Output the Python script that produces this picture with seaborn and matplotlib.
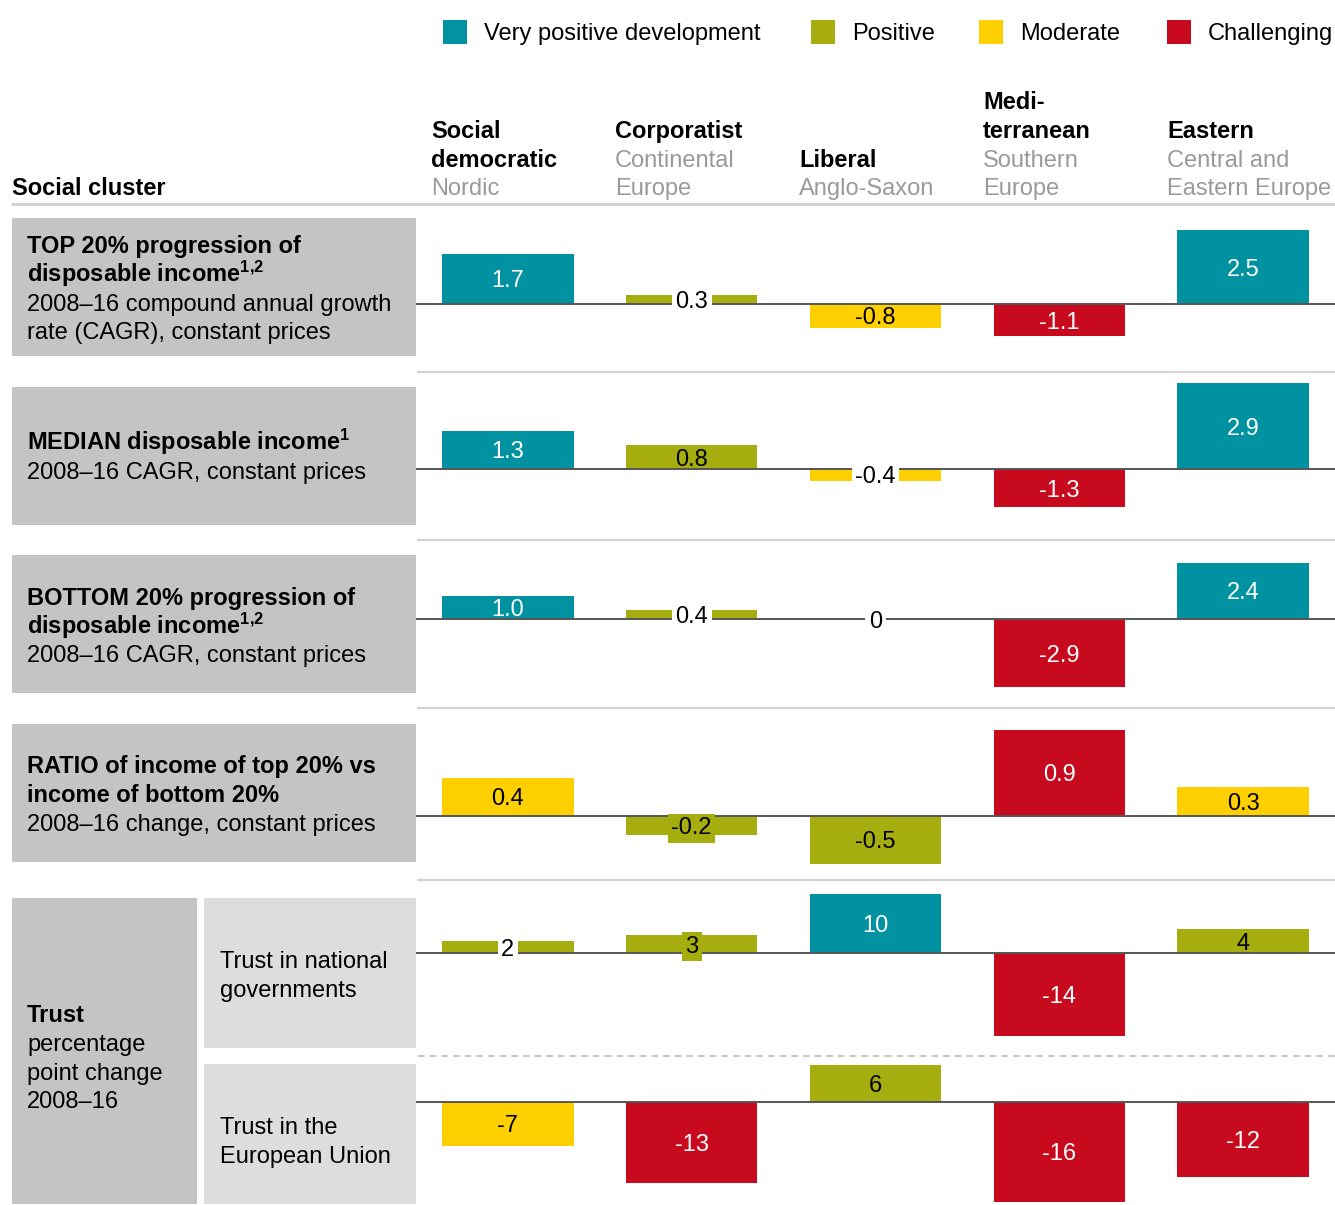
import matplotlib
matplotlib.use("Agg")
import matplotlib.pyplot as plt
from matplotlib.patches import Rectangle
from matplotlib.lines import Line2D
import seaborn as sns
import pandas as pd

sns.set_theme(style="white")
plt.rcParams['font.family'] = ['Liberation Sans', 'DejaVu Sans']
plt.rcParams['text.color'] = 'black'
plt.rcParams['mathtext.fontset'] = 'custom'
plt.rcParams['mathtext.rm'] = 'Liberation Sans'
plt.rcParams['mathtext.bf'] = 'Liberation Sans:bold'
plt.rcParams['mathtext.it'] = 'Liberation Sans:italic'

# ---------------- data ----------------
clusters = ["Social democratic", "Corporatist", "Liberal", "Mediterranean", "Eastern"]
categories = ["Very positive development", "Positive", "Moderate", "Challenging"]

top20 = [1.7, 0.3, -0.8, -1.1, 2.5]
top20_cat = ["Very positive development", "Positive", "Moderate", "Challenging", "Very positive development"]
median = [1.3, 0.8, -0.4, -1.3, 2.9]
median_cat = ["Very positive development", "Positive", "Moderate", "Challenging", "Very positive development"]
bottom20 = [1.0, 0.4, 0, -2.9, 2.4]
bottom20_cat = ["Very positive development", "Positive", "Positive", "Challenging", "Very positive development"]
ratio = [0.4, -0.2, -0.5, 0.9, 0.3]
ratio_cat = ["Moderate", "Positive", "Positive", "Challenging", "Moderate"]
trust_gov = [2, 3, 10, -14, 4]
trust_gov_cat = ["Positive", "Positive", "Very positive development", "Challenging", "Positive"]
trust_eu = [-7, -13, 6, -16, -12]
trust_eu_cat = ["Moderate", "Challenging", "Positive", "Challenging", "Challenging"]

value_labels = [
    ["1.7", "0.3", "-0.8", "-1.1", "2.5"],
    ["1.3", "0.8", "-0.4", "-1.3", "2.9"],
    ["1.0", "0.4", "0", "-2.9", "2.4"],
    ["0.4", "-0.2", "-0.5", "0.9", "0.3"],
    ["2", "3", "10", "-14", "4"],
    ["-7", "-13", "6", "-16", "-12"],
]

palette = {"Very positive development": "#0092A0", "Positive": "#A6AD0F",
           "Moderate": "#FFD000", "Challenging": "#C80A1E"}
text_on = {"Very positive development": "white", "Positive": "black",
           "Moderate": "black", "Challenging": "white"}

W, H = 1335, 1205
FS = 17
fig = plt.figure(figsize=(W / 100, H / 100), dpi=100)


def fx(px):
    return px / W


def fy(py):
    return 1 - py / H


def ftext(x, y, s, **kw):
    kw.setdefault("fontsize", FS)
    kw.setdefault("va", "baseline")
    fig.text(fx(x), fy(y + 8), s, **kw)


def rect(x0, y0, x1, y1, color):
    fig.add_artist(Rectangle((fx(x0), fy(y1)), fx(x1) - fx(x0), fy(y0) - fy(y1),
                             transform=fig.transFigure, facecolor=color,
                             edgecolor="none", zorder=0))


def hline(y, x0, x1, color, lw, ls="-"):
    fig.add_artist(Line2D([fx(x0), fx(x1)], [fy(y), fy(y)], transform=fig.transFigure,
                          color=color, lw=lw, ls=ls))


# ---------------- legend ----------------
for x, cat, lab in [(443, categories[0], "Very positive development"),
                    (811, categories[1], "Positive"),
                    (979, categories[2], "Moderate"),
                    (1167, categories[3], "Challenging")]:
    rect(x, 20, x + 24, 44, palette[cat])
    ftext(x + 41, 32, lab, color="black")

# ---------------- header ----------------
ftext(12, 187, "Social cluster", fontweight="bold")
GRAY = "#9A9A9A"
headers = [
    [("Social", "b", 130), ("democratic", "b", 159), ("Nordic", "g", 187)],
    [("Corporatist", "b", 130), ("Continental", "g", 159), ("Europe", "g", 187)],
    [("Liberal", "b", 159), ("Anglo-Saxon", "g", 187)],
    [("Medi-", "b", 101), ("terranean", "b", 130), ("Southern", "g", 159), ("Europe", "g", 187)],
    [("Eastern", "b", 130), ("Central and", "g", 159), ("Eastern Europe", "g", 187)],
]
for i, lines in enumerate(headers):
    x = 416 + 184 * i + 15
    for s, kind, y in lines:
        if kind == "b":
            ftext(x, y, s, fontweight="bold", color="black")
        else:
            ftext(x, y, s, color=GRAY)
hline(204, 12, 1335, "#CFCFCF", 2)

# ---------------- left boxes ----------------
DARK = "#C4C4C4"
LIGHT = "#DDDDDD"
rect(12, 218, 416, 356, DARK)
rect(12, 387, 416, 525, DARK)
rect(12, 555, 416, 693, DARK)
rect(12, 724, 416, 862, DARK)
rect(12, 898, 197, 1204, DARK)
rect(204, 898, 416, 1048, LIGHT)
rect(204, 1064, 416, 1204, LIGHT)

box_text = [
    (27, 245, "TOP 20% progression of", "bold"),
    (27, 274, r"disposable income$^{\mathbf{1{,}2}}$", "bold"),
    (27, 303, "2008–16 compound annual growth", "normal"),
    (27, 331, "rate (CAGR), constant prices", "normal"),
    (27, 442, r"MEDIAN disposable income$^{\mathbf{1}}$", "bold"),
    (27, 471, "2008–16 CAGR, constant prices", "normal"),
    (27, 597, "BOTTOM 20% progression of", "bold"),
    (27, 626, r"disposable income$^{\mathbf{1{,}2}}$", "bold"),
    (27, 654, "2008–16 CAGR, constant prices", "normal"),
    (27, 765, "RATIO of income of top 20% vs", "bold"),
    (27, 794, "income of bottom 20%", "bold"),
    (27, 823, "2008–16 change, constant prices", "normal"),
    (27, 1014, "Trust", "bold"),
    (27, 1043, "percentage", "normal"),
    (27, 1072, "point change", "normal"),
    (27, 1100, "2008–16", "normal"),
    (220, 960, "Trust in national", "normal"),
    (220, 989, "governments", "normal"),
    (220, 1126, "Trust in the", "normal"),
    (220, 1155, "European Union", "normal"),
]
for x, y, s, w in box_text:
    ftext(x, y, s, fontweight=w, color="black")

# ---------------- bar rows ----------------
rows = [
    (top20, top20_cat, 204, 372, 304, 29.5),
    (median, median_cat, 372, 540, 469, 29.5),
    (bottom20, bottom20_cat, 540, 708, 619, 23.5),
    (ratio, ratio_cat, 708, 880, 816, 96.0),
    (trust_gov, trust_gov_cat, 880, 1056, 953, 5.9),
    (trust_eu, trust_eu_cat, 1056, 1205, 1102, 6.25),
]

for r, (vals, cats, top, bot, zero, scale) in enumerate(rows):
    ax = fig.add_axes([fx(416), fy(bot), fx(1335) - fx(416), fy(top) - fy(bot)])
    df = pd.DataFrame({"cluster": clusters, "value": vals, "cat": cats})
    sns.barplot(data=df, x="cluster", y="value", hue="cat", order=clusters,
                hue_order=categories, palette=palette, dodge=False, width=0.714,
                saturation=1, linewidth=0, errorbar=None, legend=False, ax=ax)
    ax.set_xlim(-0.5, 4.5)
    ax.set_ylim(-(bot - zero) / scale, (zero - top) / scale)
    ax.axis("off")
    ax.axhline(0, color="#555555", lw=1.4, zorder=3)
    for i, (v, c) in enumerate(zip(vals, cats)):
        px = abs(v) * scale
        lab = value_labels[r][i]
        if px < 14:
            ax.text(i, v / 2, lab, ha="center", va="center_baseline", fontsize=FS,
                    color="black", zorder=6,
                    bbox=dict(facecolor="white", edgecolor="none", pad=2.5))
        elif px < 21:
            ax.text(i, v / 2, lab, ha="center", va="center_baseline", fontsize=FS,
                    color="black", zorder=6,
                    bbox=dict(facecolor=palette[c], edgecolor="none", pad=2.5))
        else:
            ax.text(i, v / 2, lab, ha="center", va="center_baseline", fontsize=FS,
                    color=text_on[c], zorder=6)

# separators
for y in [372, 540, 708, 880]:
    hline(y, 418, 1335, "#D3D3D3", 1.6)
hline(1056, 418, 1335, "#BDBDBD", 1.2, ls=(0, (4, 3)))

fig.savefig("out.png", dpi=100)
